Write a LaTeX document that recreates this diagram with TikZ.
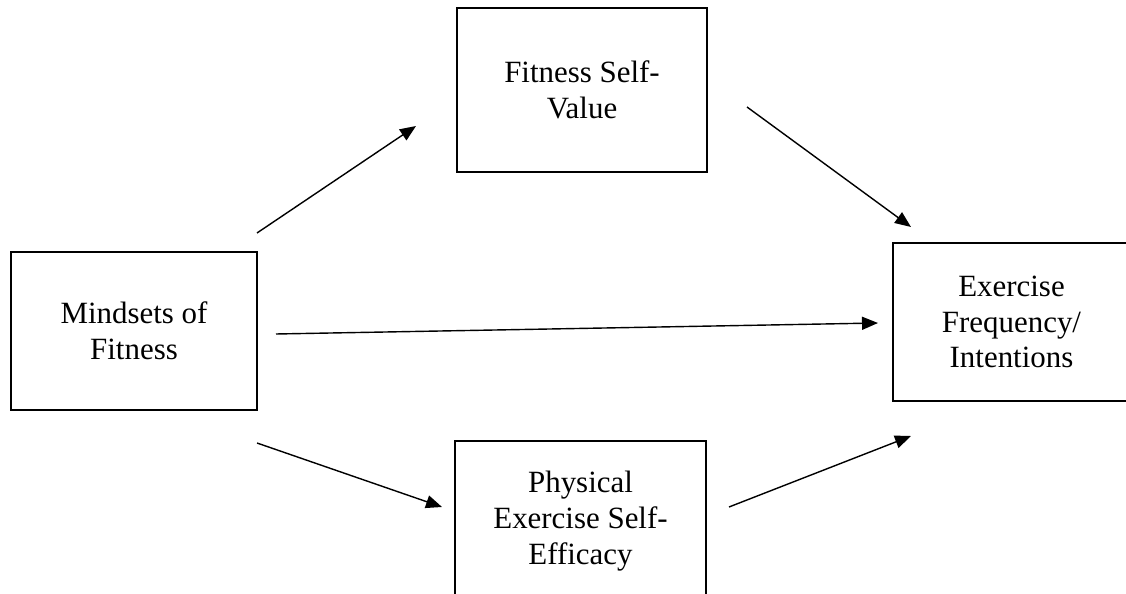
\documentclass[tikz,border=0pt]{standalone}
\usepackage{fontspec}
\setmainfont{Liberation Serif}
\usetikzlibrary{arrows.meta}
\begin{document}
\begin{tikzpicture}[x=0.02cm, y=-0.02cm,
        box/.style={draw, line width=1.1pt, inner sep=0pt, align=center,
            font=\fontsize{17.6}{20.4}\selectfont},
        link/.style={-{Triangle[length=0.32cm, width=0.26cm]}, line width=0.8pt}]
        \useasboundingbox (0,0) rectangle (1126,594);

        \node (value) [box, minimum width=5cm, minimum height=3.28cm] at (582,90) {Fitness Self-\\Value};
        \node (mindsets) [box, minimum width=4.92cm, minimum height=3.16cm] at (134,331) {Mindsets of\\Fitness};
        \node (exercise) [box, minimum width=4.74cm, minimum height=3.16cm] at (1011.5,322) {Exercise\\Frequency/\\Intentions};
        \node (efficacy) [box, minimum width=5.02cm, minimum height=3.2cm] at (580.5,521) {Physical\\Exercise Self-\\Efficacy};

        % free ends of the paths
        \coordinate (mv) at (257,233);
        \coordinate (vm) at (416,126);
        \coordinate (ve) at (747,107);
        \coordinate (ev) at (911,227);
        \coordinate (me) at (276,334);
        \coordinate (em) at (878,323);
        \coordinate (mf) at (257,443);
        \coordinate (fm) at (442,507);
        \coordinate (fe) at (729,507);
        \coordinate (ef) at (911,436);

        \path [link] (mv) edge (vm)
                     (ve) edge (ev)
                     (me) edge (em)
                     (mf) edge (fm)
                     (fe) edge (ef);
    \end{tikzpicture}
\end{document}
